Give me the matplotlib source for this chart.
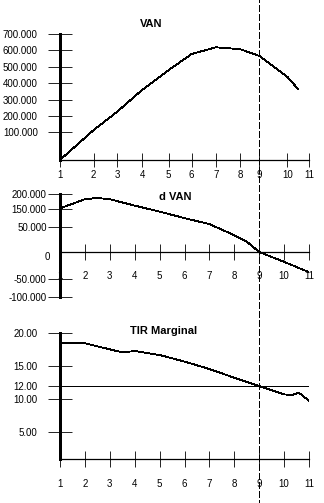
import numpy as np
import matplotlib
matplotlib.use("Agg")
import matplotlib.pyplot as plt
import matplotlib.transforms as mtransforms
from matplotlib.lines import Line2D

# ---------------- data ----------------
years = [1, 2, 3, 4, 5, 6, 7, 8, 9, 10, 11]
year_labels = [str(y) for y in years]

van_years = [1, 2, 3, 4, 5, 6, 7, 8, 9, 10, 10.5]
van_values = [-69000, 114000, 226000, 358000, 480000, 578000, 619000,
              607000, 566000, 439000, 362000]
van_ticks = [100000, 200000, 300000, 400000, 500000, 600000, 700000]
van_tick_labels = ["100.000", "200.000", "300.000", "400.000",
                   "500.000", "600.000", "700.000"]

dvan_years = [1, 2, 2.5, 3, 4, 5, 6, 7, 8, 8.5, 9, 10, 11]
dvan_values = [153000, 183000, 187000, 183000, 162000, 137000, 101000,
               68000, 34000, 21000, 0, -18000, -37000]
dvan_ticks = [-100000, -50000, 50000, 150000, 200000]
dvan_tick_labels = ["-100.000", "-50.000", "50.000", "150.000", "200.000"]

tir_years = [1, 2, 3, 3.5, 4, 5, 6, 7, 8, 9, 10, 10.3, 10.6, 11]
tir_values = [18.47, 18.47, 17.56, 17.1, 17.3, 16.7, 15.7, 14.58, 13.26,
              12.0, 10.74, 10.64, 10.98, 9.77]
tir_ticks = [5, 10, 12, 15, 20]
tir_tick_labels = ["5.00", "10.00", "12.00", "15.00", "20.00"]

discount_rate = 12.0
optimal_life = 9

# hand-drawn (uneven) axis spacing of the original figure
van_year_spacing = [0, 33.7, 57.3, 82, 108.7, 131.7, 156, 180.3, 199.3, 227.3, 249.3]
dvan_scale_values = [-100000, -50000, 0, 50000, 150000, 200000]
dvan_scale_spacing = [0, 18, 45.3, 70, 88, 103.3]


def piecewise(xp, fp):
    xp = np.asarray(xp, float)
    fp = np.asarray(fp, float)
    lo = (fp[1] - fp[0]) / (xp[1] - xp[0])
    hi = (fp[-1] - fp[-2]) / (xp[-1] - xp[-2])

    def f(v):
        v = np.asarray(v, float)
        out = np.interp(v, xp, fp)
        out = np.where(v < xp[0], fp[0] + (v - xp[0]) * lo, out)
        out = np.where(v > xp[-1], fp[-1] + (v - xp[-1]) * hi, out)
        return out
    return f


plt.rcParams["font.family"] = ["Liberation Sans", "DejaVu Sans"]
plt.rcParams["lines.scale_dashes"] = False
plt.rcParams["lines.antialiased"] = False

W, H = 324, 503
fig = plt.figure(figsize=(W / 100, H / 100), dpi=100)


def rect(l, r, t, b):
    return [l / W, 1 - b / H, (r - l) / W, (b - t) / H]


TICK_FS = 7
LW = 0.6
AXIS_LW = 0.8


def style(ax, xlen, xpad, ypad):
    for s in ("top", "right", "left"):
        ax.spines[s].set_visible(False)
    ax.spines["bottom"].set_linewidth(0.9)
    ax.axvline(years[0], color="black", lw=AXIS_LW, clip_on=False)
    ax.tick_params(axis="y", which="major", direction="inout", length=17.3,
                   width=LW, pad=ypad, labelsize=TICK_FS)
    ax.tick_params(axis="x", which="major", direction="inout", length=xlen,
                   width=LW, pad=xpad, labelsize=TICK_FS)
    ax.patch.set_alpha(0)


# ---------------- VAN ----------------
ax1 = fig.add_axes(rect(60, 309.3, 34, 160))
f1 = piecewise(years, van_year_spacing)
g1 = piecewise(van_year_spacing, years)
ax1.set_xscale("function", functions=(f1, g1))
ax1.plot(van_years, van_values, color="black", lw=LW)
ax1.set_xlim(years[0], years[-1])
ax1.set_ylim(-69000, 700000)
ax1.set_xticks(years, labels=year_labels)
ax1.set_yticks(van_ticks, labels=van_tick_labels)
style(ax1, 10.1, 2.5, 7.4)

# ---------------- d VAN ----------------
ax2 = fig.add_axes(rect(60, 309, 194, 297.3))
f2 = piecewise(dvan_scale_values, dvan_scale_spacing)
g2 = piecewise(dvan_scale_spacing, dvan_scale_values)
ax2.set_yscale("function", functions=(f2, g2))
ax2.plot(dvan_years, dvan_values, color="black", lw=LW)
ax2.set_xlim(years[0], years[-1])
ax2.set_ylim(dvan_scale_values[0], dvan_scale_values[-1])
ax2.spines["bottom"].set_position(("data", 0))
ax2.set_xticks(years, labels=year_labels)
ax2.set_yticks(dvan_ticks, labels=dvan_tick_labels)
ax2.set_yticks([0], labels=["0"], minor=True)
ax2.set_xticks([], minor=True)
style(ax2, 11.5, 7.8, 1.0)
ax2.tick_params(axis="y", which="minor", length=0, pad=7.2, labelsize=TICK_FS)
for lab in ax2.get_yticklabels(minor=True):
    lab.set_verticalalignment("top")

# ---------------- TIR Marginal ----------------
ax3 = fig.add_axes(rect(60, 309, 333.2, 458.7))
ax3.plot(tir_years, tir_values, color="black", lw=LW)
ax3.axhline(discount_rate, color="black", lw=LW)
ax3.set_xlim(years[0], years[-1])
ax3.set_ylim(1.0, 20)
ax3.set_xticks(years, labels=year_labels)
ax3.set_yticks(tir_ticks, labels=tir_tick_labels)
style(ax3, 11.5, 9.0, 7.7)

# titles
fig.text(151 / W, 1 - 24 / H, "VAN", ha="center", va="center",
         fontsize=8, fontweight="bold")
fig.text(175.5 / W, 1 - 196.5 / H, "d VAN", ha="center", va="center",
         fontsize=8, fontweight="bold")
fig.text(164 / W, 1 - 330.5 / H, "TIR Marginal", ha="center", va="center",
         fontsize=8, fontweight="bold")

# dashed vertical line at the optimal life, across all panels
trans = mtransforms.blended_transform_factory(ax3.transData, fig.transFigure)
fig.add_artist(Line2D([optimal_life, optimal_life], [0, 1], transform=trans,
                      color="black", lw=LW, linestyle=(2.4, (4.8, 2.0)),
                      antialiased=False))

fig.savefig("out.png", dpi=100, facecolor="white")
